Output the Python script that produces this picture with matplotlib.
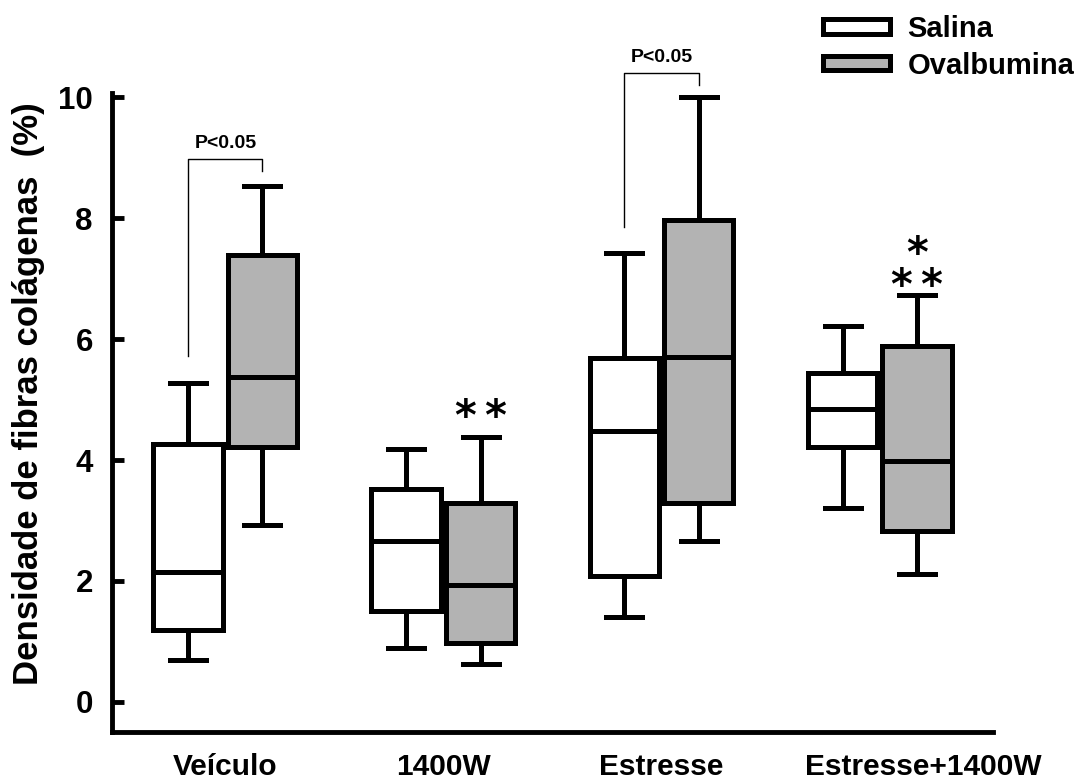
import matplotlib
matplotlib.use("Agg")
import matplotlib.pyplot as plt
from matplotlib.patches import Patch

plt.rcParams['font.family'] = ['Liberation Sans', 'DejaVu Sans']
plt.rcParams['font.weight'] = 'bold'

# group names and box statistics (%)
groups = ['Veículo', '1400W', 'Estresse', 'Estresse+1400W']

sal_lo = [0.69, 0.89, 1.40, 3.21]
sal_q1 = [1.19, 1.50, 2.08, 4.21]
sal_med = [2.15, 2.66, 4.48, 4.84]
sal_q3 = [4.26, 3.52, 5.69, 5.44]
sal_hi = [5.27, 4.18, 7.42, 6.21]

ova_lo = [2.93, 0.63, 2.66, 2.12]
ova_q1 = [4.21, 0.97, 3.29, 2.83]
ova_med = [5.37, 1.93, 5.70, 3.98]
ova_q3 = [7.39, 3.29, 7.97, 5.88]
ova_hi = [8.53, 4.38, 10.0, 6.73]

# significance marks over the Ovalbumina boxes: (group, y, text)
stars = [(2, 4.70, '*\u2009*'), (4, 7.13, '*\n*\u2009*')]
# brackets: (group, left leg bottom, top, right leg bottom)
brackets = [(1, 5.72, 8.98, 8.79), (3, 7.85, 10.40, 10.21)]


def stats(lo, q1, med, q3, hi):
    out = []
    for i in range(len(lo)):
        out.append(dict(whislo=lo[i], q1=q1[i], med=med[i], q3=q3[i],
                        whishi=hi[i], fliers=[]))
    return out


fig = plt.figure(figsize=(10.85, 7.81), dpi=100)
ax = fig.add_axes([0.1032, 0.0627, 0.812, 0.818])

pos = [1, 2, 3, 4]
off = 0.17
w = 0.32
lw = 3.6

for st, shift, fc in [(stats(sal_lo, sal_q1, sal_med, sal_q3, sal_hi), -off, 'white'),
                      (stats(ova_lo, ova_q1, ova_med, ova_q3, ova_hi), off, '#b3b3b3')]:
    ax.bxp(st, positions=[p + shift for p in pos], widths=w, patch_artist=True,
           showfliers=False, capwidths=0.165,
           boxprops=dict(facecolor=fc, edgecolor='black', linewidth=lw),
           medianprops=dict(color='black', linewidth=lw),
           whiskerprops=dict(color='black', linewidth=lw),
           capprops=dict(color='black', linewidth=lw))

for g, y, s in stars:
    ax.text(g + off, y, s, ha='center', va='center', fontsize=30,
            family='DejaVu Sans', fontweight='bold', linespacing=0.68)

for g, yl, yt, yr in brackets:
    ax.plot([g - off, g - off, g + off, g + off], [yl, yt, yt, yr],
            color='black', lw=1.0, clip_on=False)
    ax.text(g, yt + 0.12, 'P<0.05', ha='center', va='bottom', fontsize=14)

ax.set_xlim(0.48, 4.52)
ax.set_ylim(-0.5, 10.07)
ax.set_yticks([0, 2, 4, 6, 8, 10])
ax.set_xticks([1, 2, 3, 4.2])
ax.set_xticklabels(groups)

for s in ['top', 'right']:
    ax.spines[s].set_visible(False)
for s in ['left', 'bottom']:
    ax.spines[s].set_linewidth(3.5)

ax.tick_params(axis='y', direction='in', length=8.6, width=3.5,
               labelsize=22.5, pad=13.7)
ax.tick_params(axis='x', length=0, labelsize=21.5, pad=15)

ax.set_ylabel('Densidade de fibras colágenas  (%)', fontsize=25,
              fontweight='bold')
ax.yaxis.set_label_coords(-0.076, 0.53)

handles = [Patch(facecolor='white', edgecolor='black', linewidth=lw),
           Patch(facecolor='#b3b3b3', edgecolor='black', linewidth=lw)]
fig.legend(handles, ['Salina', 'Ovalbumina'], loc='upper left',
           bbox_to_anchor=(823 / 1085, 1 - 15 / 781), frameon=False,
           fontsize=21, handlelength=2.3, handleheight=0.38,
           handletextpad=0.6, labelspacing=0.3, borderpad=0,
           borderaxespad=0)

fig.savefig('out.png', dpi=100)
